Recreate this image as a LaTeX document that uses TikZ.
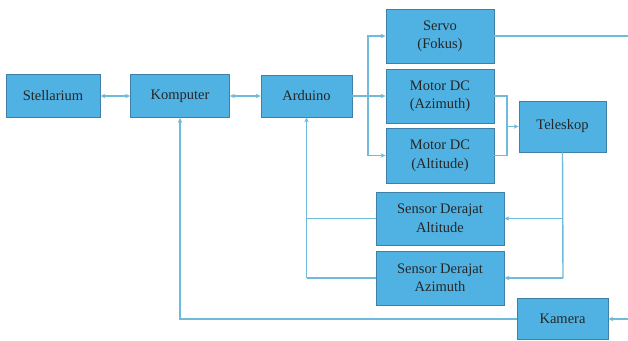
\documentclass[tikz,border=0pt]{standalone}
\usepackage{fontspec}
\setmainfont{Liberation Serif}
\usepackage{tikz}
\usetikzlibrary{arrows.meta}

\definecolor{isi}{RGB}{80,178,226}
\definecolor{tepi}{RGB}{62,128,168}
\definecolor{garisbiru}{RGB}{112,186,220}
\tikzset{
  blok/.style={draw=tepi, fill=isi, line width=0.8pt, align=center, inner sep=0pt,
    font=\fontsize{14.5}{18.5}\selectfont, text=black!85},
  garis/.style={draw=garisbiru, line width=1.4pt},
  panah/.style={garis, -{Stealth[length=5pt,width=4.5pt]}},
  panahdua/.style={garis, {Stealth[length=5pt,width=4.5pt]}-{Stealth[length=5pt,width=4.5pt]}}
}

\begin{document}
\begin{tikzpicture}[x=1pt,y=-1pt]
\useasboundingbox (0,0) rectangle (628,340);

\node[blok, minimum width=94, minimum height=43] (stel) at (53,96) {Stellarium};
\node[blok, minimum width=99, minimum height=43] (komp) at (180,96) {Komputer};
\node[blok, minimum width=91, minimum height=42] (ard) at (306.5,96) {Arduino};
\node[blok, minimum width=108, minimum height=54] (servo) at (440,36) {Servo\\(Fokus)};
\node[blok, minimum width=108, minimum height=54] (motaz) at (440,96) {Motor DC\\(Azimuth)};
\node[blok, minimum width=108, minimum height=55] (motalt) at (440,155.5) {Motor DC\\(Altitude)};
\node[blok, minimum width=87, minimum height=51] (tel) at (562.5,126.5) {Teleskop};
\node[blok, minimum width=128, minimum height=53] (sensalt) at (440,218.5) {Sensor Derajat\\Altitude};
\node[blok, minimum width=128, minimum height=54] (sensaz) at (440,278) {Sensor Derajat\\Azimuth};
\node[blok, minimum width=91, minimum height=41] (kam) at (562.5,319) {Kamera};

\coordinate (cabang) at (368,96);
\coordinate (servoujung) at (628,36);
\coordinate (gabung) at (507,126.5);
\coordinate (telalt) at (563,218.5);
\coordinate (telaz) at (563,278);
\coordinate (ardalt) at (306.5,218.5);
\coordinate (ardaz) at (306.5,278);
\coordinate (kammasuk) at (628,319);

\draw[panahdua] (stel) -- (komp);
\draw[panahdua] (komp) -- (ard);

\draw[garis] (ard.east) -- (cabang);
\draw[panah] (cabang) |- (servo.west);
\draw[panah] (cabang) -- (motaz.west);
\draw[panah] (cabang) |- (motalt.west);
\draw[garis] (servo.east) -- (servoujung);

\draw[garis] (motaz.east) -| (gabung) |- (motalt.east);
\draw[panah] (gabung) -- (tel.west);

\draw[garis] (tel.south) -- (telaz);
\draw[panah] (telalt) -- (sensalt.east);
\draw[panah] (telaz) -- (sensaz.east);

\draw[garis] (sensalt.west) -- (ardalt);
\draw[garis] (sensaz.west) -- (ardaz);
\draw[panah] (ardaz) -- (ard.south);

\draw[panah] (kammasuk) -- (kam.east);
\draw[panah] (kam.west) -| (komp.south);
\end{tikzpicture}
\end{document}
